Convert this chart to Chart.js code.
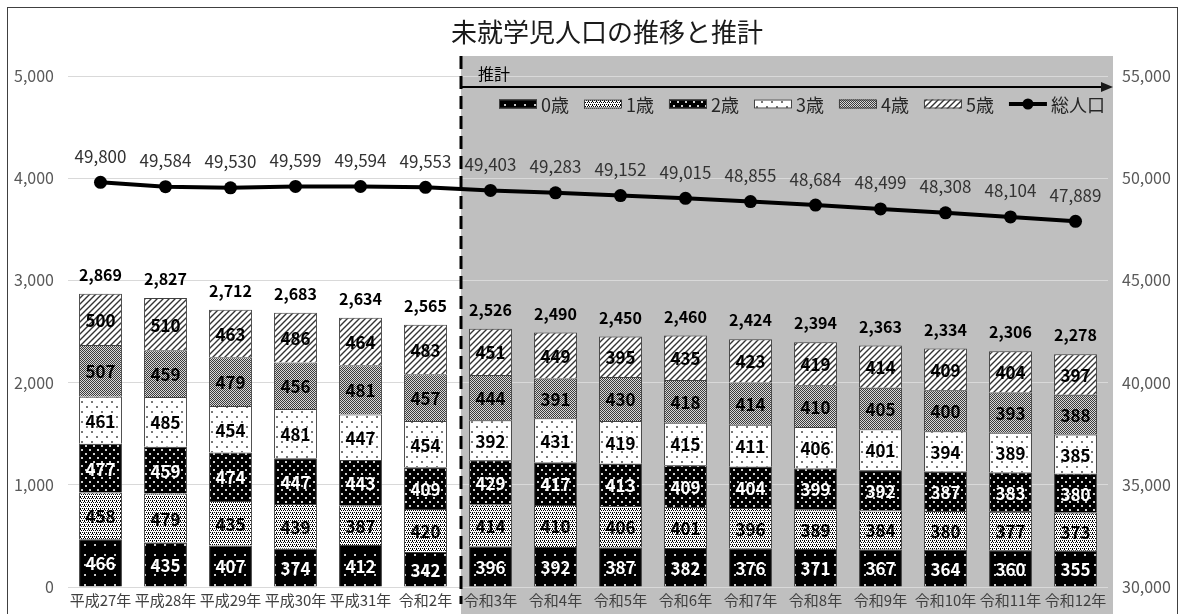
<!DOCTYPE html>
<html lang="ja">
<head>
<meta charset="utf-8">
<script src="https://cdn.jsdelivr.net/npm/chart.js@4.4.1/dist/chart.umd.min.js"></script>
<style>
html,body{margin:0;padding:0;background:#fff;}
</style>
</head>
<body>
<canvas id="myChart" width="1183" height="614"></canvas>
<script>
const labels = ['平成27年','平成28年','平成29年','平成30年','平成31年','令和2年','令和3年','令和4年',
    '令和5年','令和6年','令和7年','令和8年','令和9年','令和10年','令和11年','令和12年'];

const age0 = [466,435,407,374,412,342,396,392,387,382,376,371,367,364,360,355];
const age1 = [458,479,435,439,387,420,414,410,406,401,396,389,384,380,377,373];
const age2 = [477,459,474,447,443,409,429,417,413,409,404,399,392,387,383,380];
const age3 = [461,485,454,481,447,454,392,431,419,415,411,406,401,394,389,385];
const age4 = [507,459,479,456,481,457,444,391,430,418,414,410,405,400,393,388];
const age5 = [500,510,463,486,464,483,451,449,395,435,423,419,414,409,404,397];
const totalPop = [49800,49584,49530,49599,49594,49553,49403,49283,49152,49015,48855,48684,48499,48308,48104,47889];

const ageNames = ['0歳','1歳','2歳','3歳','4歳','5歳'];
const firstForecast = 6; // 令和3年 から推計

const FONT = '"Noto Sans CJK JP", "Noto Sans", sans-serif';
const fmt = v => v.toLocaleString('en-US');

// fill patterns, roughly like the Excel ones
function tile(size, draw) {
    const c = document.createElement('canvas');
    c.width = c.height = size;
    const g = c.getContext('2d');
    draw(g, size);
    return g.createPattern(c, 'repeat');
}
const patterns = [
    tile(10, g => { g.fillStyle = '#000'; g.fillRect(0,0,10,10); g.fillStyle = '#c8c8c8'; g.fillRect(4,4,2,2); }),
    tile(4, g => { g.fillStyle = '#fff'; g.fillRect(0,0,4,4); g.fillStyle = '#000';
        g.fillRect(0,0,1,1); g.fillRect(2,0,1,1); g.fillRect(1,2,1,1); g.fillRect(3,2,1,1); g.fillRect(0,1,1,1); }),
    tile(8, g => { g.fillStyle = '#000'; g.fillRect(0,0,8,8); g.fillStyle = '#d0d0d0'; g.fillRect(1,1,2,2); g.fillRect(5,5,2,2); }),
    tile(10, g => { g.fillStyle = '#fff'; g.fillRect(0,0,10,10); g.fillStyle = '#777'; g.fillRect(1,1,2,2); g.fillRect(6,6,2,2); }),
    tile(2, g => { g.fillStyle = '#d8d8d8'; g.fillRect(0,0,2,2); g.fillStyle = '#3a3a3a'; g.fillRect(0,0,1,1); g.fillRect(1,1,1,1); }),
    tile(6, g => { g.fillStyle = '#fff'; g.fillRect(0,0,6,6); g.strokeStyle = '#333'; g.lineWidth = 1.4;
        g.beginPath(); g.moveTo(-1,7); g.lineTo(7,-1); g.moveTo(-4,4); g.lineTo(4,-4); g.moveTo(2,10); g.lineTo(10,2); g.stroke(); })
];
const labelColors = ['#fff','#000','#fff','#000','#000','#000'];

const ageData = [age0, age1, age2, age3, age4, age5];
const datasets = [{
    type: 'line',
    label: '総人口',
    data: totalPop,
    yAxisID: 'y2',
    order: 0,
    borderColor: '#000',
    backgroundColor: '#000',
    borderWidth: 4,
    pointRadius: 6.5,
    pointBackgroundColor: '#000',
    pointBorderWidth: 0,
    tension: 0
}];
ageData.forEach((arr, i) => {
    datasets.push({
        type: 'bar',
        label: ageNames[i],
        data: arr,
        yAxisID: 'y',
        order: 1,
        backgroundColor: patterns[i],
        borderColor: '#404040',
        borderWidth: 1,
        barPercentage: 0.66,
        categoryPercentage: 1
    });
});

// gray forecast area behind the grid
const forecastBg = {
    id: 'forecastBg',
    beforeDraw(chart) {
        const { ctx, chartArea, scales: { x } } = chart;
        const xs = (x.getPixelForValue(firstForecast - 1) + x.getPixelForValue(firstForecast)) / 2 + 3;
        ctx.save();
        ctx.fillStyle = '#fff';
        ctx.fillRect(0, 0, chart.width, chart.height);
        ctx.fillStyle = '#bfbfbf';
        ctx.fillRect(xs, chartArea.top - 20, chartArea.right + 5 - xs, chart.height - chartArea.top + 20);
        ctx.restore();
    }
};

// data labels: segment values, stack totals, population values
const valueLabels = {
    id: 'valueLabels',
    afterDatasetsDraw(chart) {
        const ctx = chart.ctx;
        ctx.save();
        ctx.textAlign = 'center';
        ctx.textBaseline = 'middle';
        for (let d = 1; d <= 6; d++) {
            const meta = chart.getDatasetMeta(d);
            ctx.font = 'bold 17px ' + FONT;
            ctx.fillStyle = labelColors[d - 1];
            meta.data.forEach((el, i) => {
                ctx.fillText(String(ageData[d - 1][i]), el.x, (el.y + el.base) / 2 + 1);
            });
        }
        const top = chart.getDatasetMeta(6);
        ctx.fillStyle = '#000';
        ctx.font = 'bold 16px ' + FONT;
        top.data.forEach((el, i) => {
            const sum = ageData.reduce((s, a) => s + a[i], 0);
            ctx.fillText(fmt(sum), el.x, el.y - 19);
        });
        const line = chart.getDatasetMeta(0);
        ctx.fillStyle = '#333';
        ctx.font = '17px ' + FONT;
        line.data.forEach((el, i) => {
            ctx.fillText(fmt(totalPop[i]), el.x, el.y - 26);
        });
        ctx.restore();
    }
};

// title, forecast divider, legend, frame
const decorations = {
    id: 'decorations',
    afterDraw(chart) {
        const { ctx, chartArea, scales: { x } } = chart;
        const xs = (x.getPixelForValue(firstForecast - 1) + x.getPixelForValue(firstForecast)) / 2 + 3;
        const xr = chartArea.right + 5;
        ctx.save();

        ctx.fillStyle = '#1a1a1a';
        ctx.font = '26px ' + FONT;
        ctx.textAlign = 'center';
        ctx.textBaseline = 'middle';
        ctx.fillText('未就学児人口の推移と推計', 607, 32);

        // dashed divider
        ctx.strokeStyle = '#000';
        ctx.lineWidth = 3;
        ctx.setLineDash([13, 7]);
        ctx.beginPath();
        ctx.moveTo(xs, chartArea.top - 20);
        ctx.lineTo(xs, chart.height - 10);
        ctx.stroke();
        ctx.setLineDash([]);

        // arrow
        const ay = chartArea.top + 11;
        ctx.lineWidth = 2;
        ctx.beginPath();
        ctx.moveTo(xs, ay);
        ctx.lineTo(xr - 10, ay);
        ctx.stroke();
        ctx.beginPath();
        ctx.moveTo(xr, ay);
        ctx.lineTo(xr - 12, ay - 5);
        ctx.lineTo(xr - 12, ay + 5);
        ctx.closePath();
        ctx.fill();

        ctx.fillStyle = '#000';
        ctx.font = '16px ' + FONT;
        ctx.textAlign = 'left';
        ctx.fillText('推計', xs + 17, ay - 13);

        // legend
        const ly = chartArea.top + 28;
        ctx.font = '18px ' + FONT;
        const items = chart.data.datasets.slice(1).concat(chart.data.datasets[0]);
        const boxW = 38, gapIn = 4, gapOut = 15;
        let lx = xs + 38;
        items.forEach(ds => {
            if (ds.type === 'line') {
                ctx.strokeStyle = '#000';
                ctx.lineWidth = 4;
                ctx.beginPath();
                ctx.moveTo(lx, ly);
                ctx.lineTo(lx + boxW, ly);
                ctx.stroke();
                ctx.beginPath();
                ctx.arc(lx + boxW / 2, ly, 5.5, 0, Math.PI * 2);
                ctx.fillStyle = '#000';
                ctx.fill();
            } else {
                ctx.fillStyle = ds.backgroundColor;
                ctx.fillRect(lx, ly - 4.5, boxW, 9);
                ctx.strokeStyle = '#404040';
                ctx.lineWidth = 1;
                ctx.strokeRect(lx + 0.5, ly - 4, boxW - 1, 8);
            }
            lx += boxW + gapIn;
            ctx.fillStyle = '#262626';
            ctx.fillText(ds.label, lx, ly + 1);
            lx += ctx.measureText(ds.label).width + gapOut;
        });

        // outer frame
        ctx.strokeStyle = '#404040';
        ctx.lineWidth = 1;
        ctx.strokeRect(7.5, 7.5, 1170, 640);
        ctx.restore();
    }
};

const config = {
    type: 'bar',
    data: { labels: labels, datasets: datasets },
    options: {
        responsive: false,
        animation: false,
        layout: { padding: { top: 76, bottom: 1, left: 8, right: 5 } },
        plugins: {
            legend: { display: false },
            title: { display: false },
            tooltip: { enabled: false }
        },
        scales: {
            x: {
                stacked: true,
                grid: { display: false, drawTicks: false },
                border: { display: false },
                ticks: { autoSkip: false, maxRotation: 0, minRotation: 0, padding: 4,
                    color: '#404040', font: { family: FONT, size: 15 } }
            },
            y: {
                stacked: true,
                position: 'left',
                min: 0,
                max: 5000,
                ticks: { stepSize: 1000, padding: 14, color: '#595959',
                    font: { family: FONT, size: 16 }, callback: v => fmt(v) },
                grid: { color: '#d9d9d9', drawTicks: false },
                border: { display: false },
                afterFit: s => { s.width = 60; }
            },
            y2: {
                position: 'right',
                min: 30000,
                max: 55000,
                ticks: { stepSize: 5000, padding: 14, color: '#595959',
                    font: { family: FONT, size: 16 }, callback: v => fmt(v) },
                grid: { drawOnChartArea: false, drawTicks: false },
                border: { display: false },
                afterFit: s => { s.width = 70; }
            }
        }
    },
    plugins: [forecastBg, valueLabels, decorations]
};

const myChart = new Chart(document.getElementById('myChart'), config);
</script>
</body>
</html>
